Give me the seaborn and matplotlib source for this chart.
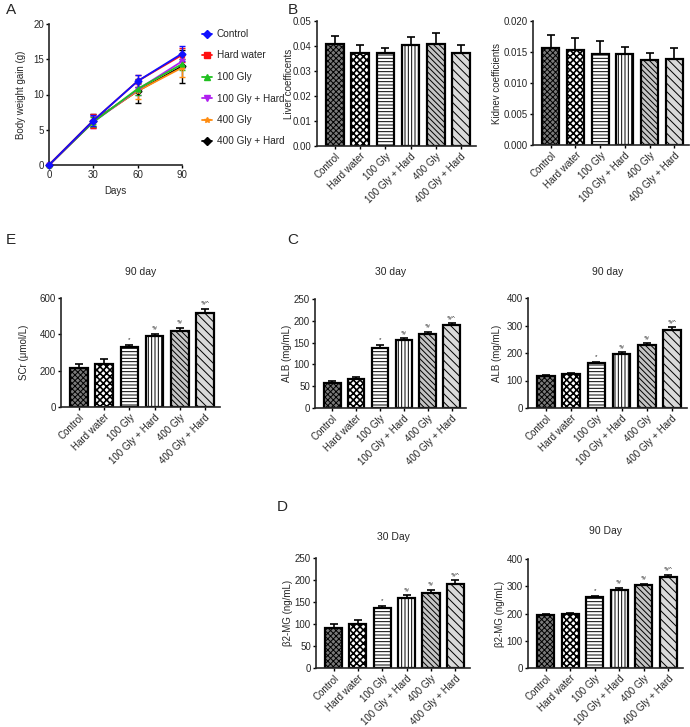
import matplotlib
matplotlib.use('Agg')
import matplotlib.pyplot as plt
import seaborn as sns
import numpy as np
import pandas as pd

groups = ['Control', 'Hard water', '100 Gly', '100 Gly + Hard', '400 Gly', '400 Gly + Hard']
stars = ['', '', '*', '*#', '*#', '*#^']

# A: body weight gain
days = [0, 30, 60, 90]
bw_mean = {
    'Control':        [0, 6.3, 11.9, 15.8],
    'Hard water':     [0, 6.3, 11.9, 15.6],
    '100 Gly':        [0, 6.1, 10.8, 14.3],
    '100 Gly + Hard': [0, 6.1, 10.7, 14.7],
    '400 Gly':        [0, 6.2, 10.5, 13.8],
    '400 Gly + Hard': [0, 6.3, 10.5, 14.0],
}
bw_err = {
    'Control':        [0, 0.8, 0.8, 1.1],
    'Hard water':     [0, 1.0, 0.9, 1.0],
    '100 Gly':        [0, 0.7, 0.9, 0.8],
    '100 Gly + Hard': [0, 0.8, 0.8, 0.9],
    '400 Gly':        [0, 0.7, 1.2, 1.3],
    '400 Gly + Hard': [0, 0.9, 1.7, 2.3],
}

# B: organ coefficients
liver_mean = [0.0407, 0.0373, 0.0373, 0.0406, 0.0408, 0.0371]
liver_err = [0.0032, 0.0030, 0.0021, 0.0032, 0.0044, 0.0034]
kidney_mean = [0.0157, 0.0153, 0.0146, 0.0146, 0.0137, 0.0139]
kidney_err = [0.0020, 0.0019, 0.0021, 0.0012, 0.0011, 0.0018]

# E: SCr 90 day
scr_mean = [215, 235, 330, 393, 418, 515]
scr_err = [20, 30, 12, 10, 18, 25]

# C: ALB
alb30_mean = [58, 67, 137, 155, 169, 190]
alb30_err = [4, 4, 7, 5, 5, 4]
alb90_mean = [118, 122, 163, 195, 230, 283]
alb90_err = [3, 5, 6, 7, 5, 10]

# D: beta2-MG
b2m30_mean = [92, 100, 137, 160, 171, 192]
b2m30_err = [8, 8, 4, 5, 6, 7]
b2m90_mean = [195, 197, 262, 287, 305, 333]
b2m90_err = [3, 4, 4, 6, 5, 8]

sns.set_theme(style='ticks')
plt.rcParams['font.family'] = ['Liberation Sans', 'DejaVu Sans']
plt.rcParams['hatch.linewidth'] = 0.7
plt.rcParams['axes.linewidth'] = 1.2

W, H = 690, 727
fig = plt.figure(figsize=(W / 100, H / 100), dpi=100)


def place(l, r, t, b):
    return fig.add_axes([l / W, 1 - b / H, (r - l) / W, (b - t) / H])


def style_axis(ax, label_x, ylabel):
    sns.despine(ax=ax)
    ax.tick_params(axis='both', labelsize=7, length=2.5, width=1, pad=1.2, color='black')
    ax.set_ylabel(ylabel, fontsize=7)
    l = ax.get_position().x0 * W
    w = ax.get_position().width * W
    ax.yaxis.set_label_coords((label_x + 5 - l) / w, 0.5)


bar_faces = ['#7a7a7a', 'white', 'white', 'white', '#c4c4c4', '#dadada']
bar_hatch = ['xxxxxx', 'xxxxx', '-----', '|||||', '\\\\\\\\\\\\', '\\\\\\\\']
hatch_lw = [0.7, 1.2, 0.7, 0.7, 0.7, 0.7]


def draw_bars(ax, mean, err, ystep, ymax, ylabel, label_x, title=None, title_y=None,
              fmt='{:.0f}', show_stars=True):
    df = pd.DataFrame({'group': groups, 'value': mean})
    sns.barplot(data=df, x='group', y='value', ax=ax, color='white', width=0.7,
                edgecolor='black', linewidth=1.6, errorbar=None)
    for p, fc, h, hl in zip(ax.patches, bar_faces, bar_hatch, hatch_lw):
        p.set_facecolor(fc)
        p.set_hatch(h)
        p.set_edgecolor('black')
        if hasattr(p, 'set_hatch_linewidth'):
            p.set_hatch_linewidth(hl)
    x = np.arange(len(groups))
    ax.errorbar(x, mean, yerr=[np.zeros(len(mean)), err], fmt='none', ecolor='black',
                elinewidth=1.2, capsize=3, capthick=1.2, zorder=1)
    ax.set_ylim(0, ymax)
    ax.set_xlim(-0.72, 5.6)
    ticks = np.arange(0, ymax + ystep / 2, ystep)
    ax.set_yticks(ticks)
    ax.set_yticklabels([fmt.format(t) for t in ticks])
    ax.set_xlabel('')
    ax.set_xticks(x)
    ax.set_xticklabels(groups, rotation=45, ha='right', rotation_mode='anchor')
    if show_stars:
        for xi, m, e, s in zip(x, mean, err, stars):
            if s:
                ax.text(xi, m + e + ymax * 0.025, s, ha='center', va='bottom', fontsize=4.5)
    style_axis(ax, label_x, ylabel)
    if title:
        cx = (ax.get_position().x0 + ax.get_position().x1) / 2
        fig.text(cx, 1 - title_y / H, title, ha='center', va='center', fontsize=7.5)


# Panel A
axA = place(49, 182, 24, 165)
markers = ['D', 's', '^', 'v', '*', 'D']
colors = ['#1010ff', '#ff1010', '#20c020', '#b020f0', '#ff8c10', 'black']
order = list(bw_mean.keys())[::-1]
for g in order:
    i = groups.index(g)
    axA.errorbar(days, bw_mean[g], yerr=bw_err[g], color=colors[i], ecolor=colors[i],
                 elinewidth=1, capsize=2, lw=1.3, marker=markers[i], ms=3.5, clip_on=False,
                 zorder=3)
handles = [plt.Line2D([], [], color=colors[i], marker=markers[i], ms=4, lw=1.3)
           for i in range(6)]
axA.set_xlim(0, 90)
axA.set_ylim(0, 20)
axA.set_xticks(days)
axA.set_yticks([0, 5, 10, 15, 20])
axA.set_xlabel('Days', fontsize=7, labelpad=4)
style_axis(axA, 21, 'Body weight gain (g)')
fig.legend(handles, groups, loc='upper left', bbox_to_anchor=(193 / W, 1 - 20 / H),
           frameon=False, fontsize=7.2, handlelength=1.0, handletextpad=0.5,
           labelspacing=1.15)

# Panel B
axL = place(317, 476, 21, 146)
draw_bars(axL, liver_mean, liver_err, 0.01, 0.05, 'Liver coefficents', 289,
          fmt='{:.2f}', show_stars=False)
axK = place(533, 689, 21, 145)
draw_bars(axK, kidney_mean, kidney_err, 0.005, 0.020, 'Kidnev coefficients', 497,
          fmt='{:.3f}', show_stars=False)

# Panel E
axE = place(61, 220, 298, 407)
draw_bars(axE, scr_mean, scr_err, 200, 600, 'SCr (\u03bcmol/L)', 24, '90 day', 272)

# Panel C
axC1 = place(315, 466, 299, 408)
draw_bars(axC1, alb30_mean, alb30_err, 50, 250, 'ALB (mg/mL)', 287, '30 day', 272)
axC2 = place(528, 687, 298, 408)
draw_bars(axC2, alb90_mean, alb90_err, 100, 400, 'ALB (mg/mL)', 497, '90 day', 272)

# Panel D
axD1 = place(316, 470, 558, 668)
draw_bars(axD1, b2m30_mean, b2m30_err, 50, 250, '\u03b22-MG (ng/mL)', 288, '30 Day', 537)
axD2 = place(528, 683, 559, 668)
draw_bars(axD2, b2m90_mean, b2m90_err, 100, 400, '\u03b22-MG (ng/mL)', 500, '90 Day', 531)

for lab, x, y in [('A', 6, 10), ('B', 288, 10), ('E', 6, 240), ('C', 287, 240), ('D', 277, 507)]:
    fig.text(x / W, 1 - y / H, lab, fontsize=11, ha='left', va='center')

fig.savefig('out.png', dpi=100)
